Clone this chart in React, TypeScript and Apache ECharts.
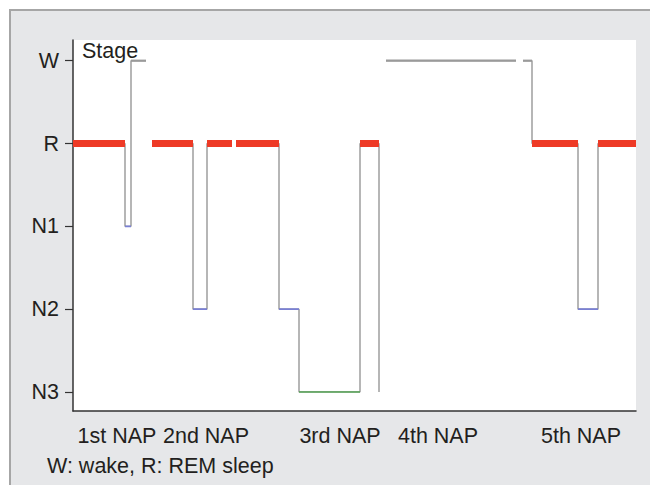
import React, { useEffect, useRef } from "react";
import * as echarts from "echarts";

// Stage levels on the y axis (index = value)
const stageNames = ["N3", "N2", "N1", "R", "W"];

// Each nap: change times (arbitrary time units from the start of the plot) and the stage held between them
const nap1Times = [0, 52, 58, 73];
const nap1Stages = ["R", "N1", "W"];
const nap2Times = [79, 120, 134, 159];
const nap2Stages = ["R", "N2", "R"];
const nap3Times = [163, 206, 226, 287, 306, 306];
const nap3Stages = ["R", "N2", "N3", "R", "N3"];
const nap4Times = [313, 443];
const nap4Stages = ["W"];
const nap5Times = [450, 459, 505, 525, 563];
const nap5Stages = ["W", "R", "N2", "R"];

// Nap labels along the time axis
const napLabels = ["1st NAP", "2nd NAP", "3rd NAP", "4th NAP", "5th NAP"];
const napLabelPos = [44, 133, 267, 365, 508];

const timeMax = 563;
const footnote = "W: wake, R: REM sleep";

const naps = [
  { times: nap1Times, stages: nap1Stages },
  { times: nap2Times, stages: nap2Stages },
  { times: nap3Times, stages: nap3Stages },
  { times: nap4Times, stages: nap4Stages },
  { times: nap5Times, stages: nap5Stages },
];

const stageStyle: Record<string, { color: string; width: number }> = {
  R: { color: "#ee3a26", width: 7 },
  W: { color: "#9a9a9a", width: 2.2 },
  N1: { color: "#7a80d4", width: 1.6 },
  N2: { color: "#7a80d4", width: 1.6 },
  N3: { color: "#5aa85a", width: 1.6 },
};

const FONT = "Liberation Sans, Arial, sans-serif";
const FS = 21.5;

export default function App() {
  const ref = useRef<HTMLDivElement>(null);
  useEffect(() => {
    if (!ref.current) return;
    const chart = echarts.init(ref.current, undefined, { renderer: "svg" });
    const series: any[] = [];
    naps.forEach((nap, n) => {
      const pts: number[][] = [];
      nap.stages.forEach((s, i) => {
        const v = stageNames.indexOf(s);
        pts.push([nap.times[i], v], [nap.times[i + 1], v]);
      });
      series.push({
        type: "line",
        name: "outline" + n,
        data: pts,
        showSymbol: false,
        silent: true,
        lineStyle: { color: "#858585", width: 1.2 },
        z: 2,
      });
      nap.stages.forEach((s, i) => {
        const v = stageNames.indexOf(s);
        if (nap.times[i + 1] === nap.times[i]) return;
        const st = stageStyle[s];
        series.push({
          type: "line",
          name: "seg" + n + "_" + i,
          data: [
            [nap.times[i], v],
            [nap.times[i + 1], v],
          ],
          showSymbol: false,
          silent: true,
          lineStyle: { color: st.color, width: st.width, cap: "butt" },
          z: s === "R" ? 4 : 3,
        });
      });
    });

    chart.setOption({
      animation: false,
      graphic: [
        {
          type: "rect",
          shape: { x: 10, y: 10, width: 660, height: 500 },
          style: { fill: "#e6e7e9", stroke: "#a6a6a6", lineWidth: 2 },
          z: -10,
          silent: true,
        },
        {
          type: "text",
          left: 82,
          top: 40,
          style: { text: "Stage", fill: "#231f20", font: `${FS}px ${FONT}` },
          z: 10,
        },
        {
          type: "text",
          left: 47,
          top: 455,
          style: { text: footnote, fill: "#231f20", font: `${FS}px ${FONT}` },
          z: 10,
        },
      ],
      grid: {
        left: 73,
        right: 14,
        top: 40,
        bottom: 74,
        show: true,
        backgroundColor: "#ffffff",
        borderWidth: 0,
      },
      xAxis: {
        type: "value",
        min: 0,
        max: timeMax,
        splitLine: { show: false },
        axisTick: { show: false },
        axisLine: { show: true, onZero: false, lineStyle: { color: "#333333", width: 1.5 } },
        axisLabel: {
          customValues: napLabelPos,
          formatter: (v: number) => napLabels[napLabelPos.indexOf(v)] ?? "",
          color: "#231f20",
          fontSize: FS,
          fontFamily: FONT,
          margin: 14,
        },
      },
      yAxis: {
        type: "value",
        min: -0.23,
        max: 4.25,
        splitLine: { show: false },
        axisLine: { show: true, lineStyle: { color: "#333333", width: 1.5 } },
        axisTick: {
          show: true,
          customValues: [0, 1, 2, 3, 4],
          length: 8,
          lineStyle: { color: "#333333", width: 1.2 },
        },
        axisLabel: {
          customValues: [0, 1, 2, 3, 4],
          formatter: (v: number) => stageNames[Math.round(v)] ?? "",
          color: "#231f20",
          fontSize: FS,
          fontFamily: FONT,
          margin: 14,
        },
      },
      series,
    });
    return () => chart.dispose();
  }, []);
  return (
    <div
      ref={ref}
      style={{ position: "fixed", left: 0, top: 0, width: 650, height: 485, background: "#ffffff" }}
    />
  );
}
